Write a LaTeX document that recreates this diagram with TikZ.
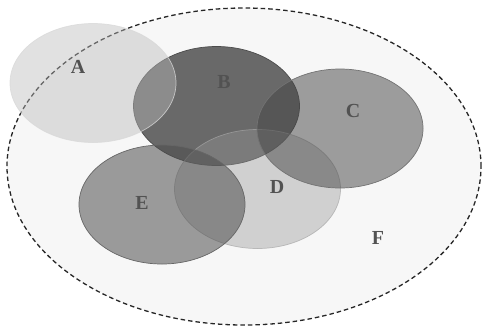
\documentclass[tikz,border=0pt]{standalone}
\usepackage{fontspec}
\setmainfont{Liberation Serif}
\usetikzlibrary{shapes.geometric}
\definecolor{fillF}{gray}{0.97}
\definecolor{fillA}{gray}{0.73}
\definecolor{fillB}{gray}{0.41}
\definecolor{fillC}{gray}{0.27}
\definecolor{fillD}{gray}{0.59}
\definecolor{fillE}{gray}{0.3}
\definecolor{lblgray}{gray}{0.32}
\tikzstyle{universe} = [ellipse, minimum width=474bp, minimum height=317bp, draw=black!85, dash pattern=on 4.5bp off 3bp, line width=1.3bp, fill=fillF]
\tikzstyle{set} = [ellipse, minimum width=166bp, minimum height=119bp, line width=0.7bp]
\tikzstyle{lbl} = [font=\fontsize{20}{20}\selectfont\bfseries, text=lblgray]

\begin{document}
\begin{tikzpicture}[x=1bp, y=-1bp]
			\useasboundingbox (0,0) rectangle (483,330);
			\node[universe] (F) at (244,166.5) {};
			\node[set, fill=fillB, draw=black!70] (B) at (216.5,106) {};
			\node[set, fill=fillA, fill opacity=0.44, draw=white!85!black, draw opacity=0.8] (A) at (93,83) {};
			\node[set, fill=fillD, fill opacity=0.4, draw=black!35, draw opacity=0.7] (D) at (257.5,189) {};
			\node[set, fill=fillC, fill opacity=0.51, draw=black!55] (C) at (340,128.5) {};
			\node[set, fill=fillE, fill opacity=0.54, draw=black!60] (E) at (162,204.5) {};
			
			\node[lbl] (labelA) at (78,67) {A};
			\node[lbl] (labelB) at (224,82) {B};
			\node[lbl] (labelC) at (353,111) {C};
			\node[lbl] (labelD) at (277,187) {D};
			\node[lbl] (labelE) at (142,203) {E};
			\node[lbl] (labelF) at (378,238) {F};
			
		\end{tikzpicture}
\end{document}
